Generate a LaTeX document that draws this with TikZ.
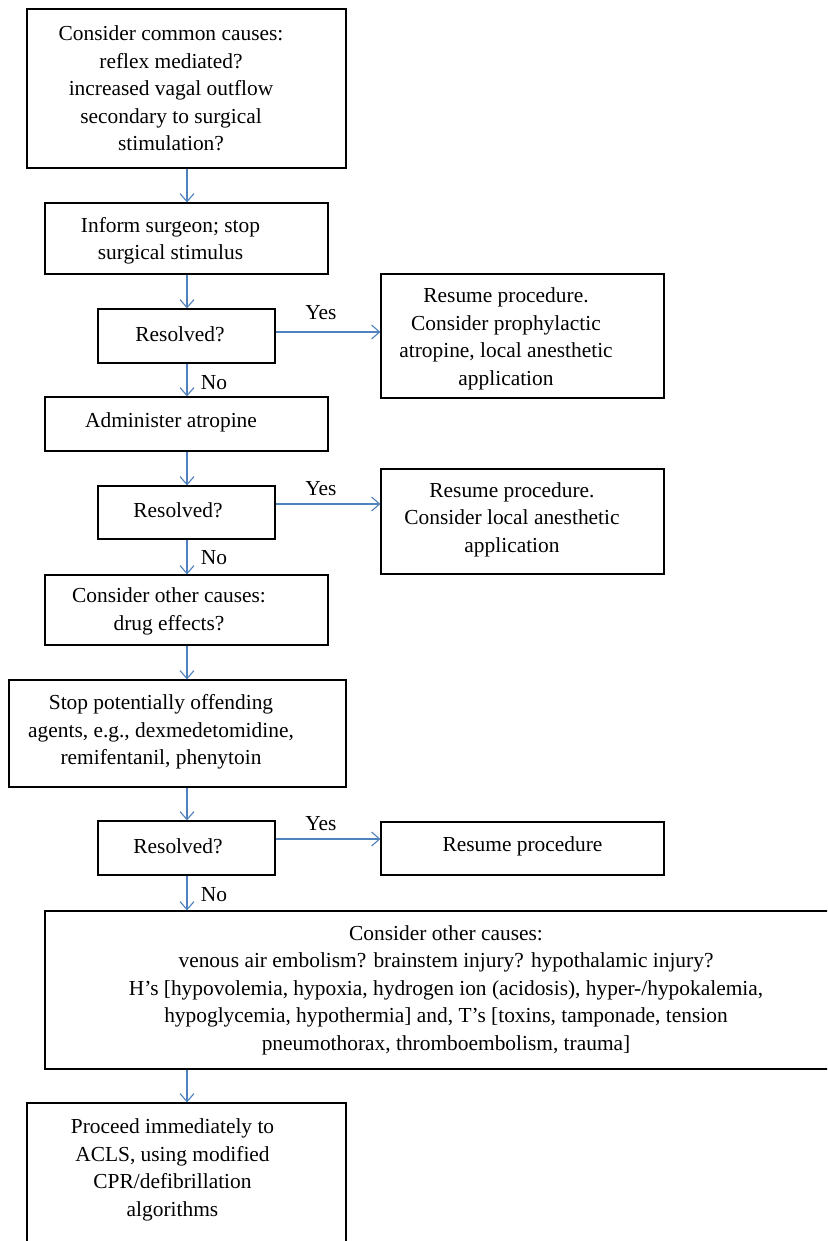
\documentclass[tikz,border=0pt]{standalone}
\usepackage{fontspec}
\setmainfont{Liberation Serif}
\usetikzlibrary{arrows.meta}
\definecolor{arrblue}{RGB}{79,129,189}
\tikzset{
  boxnode/.style={draw=black, line width=1.2pt, rectangle, inner sep=0pt, anchor=center},
  txt/.style={inner sep=0pt, align=center, font=\fontsize{21.4pt}{27.5pt}\selectfont, anchor=center},
  arr/.style={draw=arrblue, line width=1.1pt, -{Straight Barb[length=8pt,width=14pt,line width=1.1pt]}},
}
\begin{document}
\begin{tikzpicture}[x=1pt,y=-1pt]
\clip (0,0) rectangle (827,1241);
\fill[white] (0,0) rectangle (827,1241);
\coordinate (sp) at (187,0);
% boxes
\node[boxnode, minimum width=319pt, minimum height=159pt] (top) at (186.5,88.5) {};
\node[txt] (toptxt) at (171,88.5) {Consider common causes:\\reflex mediated?\\increased vagal outflow\\secondary to surgical\\stimulation?};
\node[boxnode, minimum width=283pt, minimum height=71pt] (inform) at (186.5,238.5) {};
\node[txt] (informtxt) at (170.5,241) {Inform surgeon; stop\\surgical stimulus};
\node[boxnode, minimum width=177pt, minimum height=54pt] (ra) at (186.5,336) {};
\node[txt] (ratxt) at (180,334) {Resolved?};
\node[boxnode, minimum width=283pt, minimum height=54pt] (admin) at (186.5,424) {};
\node[txt] (admintxt) at (171,422) {Administer atropine};
\node[boxnode, minimum width=177pt, minimum height=53pt] (rb) at (186.5,512.5) {};
\node[txt] (rbtxt) at (178,510) {Resolved?};
\node[boxnode, minimum width=283pt, minimum height=70pt] (other) at (186.5,610) {};
\node[txt] (othertxt) at (169,611.5) {Consider other causes:\\drug effects?};
\node[boxnode, minimum width=337pt, minimum height=107pt] (stop) at (177.5,733.5) {};
\node[txt] (stoptxt) at (161,732) {Stop potentially offending\\agents, e.g., dexmedetomidine,\\remifentanil, phenytoin};
\node[boxnode, minimum width=177pt, minimum height=54pt] (rc) at (186.5,848) {};
\node[txt] (rctxt) at (178,846) {Resolved?};
\node[boxnode, minimum width=283pt, minimum height=124pt] (sa) at (522.5,336) {};
\node[txt] (satxt) at (506,339) {Resume procedure.\\Consider prophylactic\\atropine, local anesthetic\\application};
\node[boxnode, minimum width=283pt, minimum height=105pt] (sb) at (522.5,521.5) {};
\node[txt] (sbtxt) at (512,519.5) {Resume procedure.\\Consider local anesthetic\\application};
\node[boxnode, minimum width=283pt, minimum height=53pt] (sc) at (522.5,848.5) {};
\node[txt] (sctxt) at (522.5,846) {Resume procedure};
\node[boxnode, minimum width=835pt, minimum height=158pt] (big) at (462.5,990) {};
\node[txt] (bigtxt) at (446,990) {Consider other causes:\\venous air embolism? brainstem injury? hypothalamic injury?\\H’s [hypovolemia, hypoxia, hydrogen ion (acidosis), hyper-/hypokalemia,\\hypoglycemia, hypothermia] and, T’s [toxins, tamponade, tension\\pneumothorax, thromboembolism, trauma]};
\node[boxnode, minimum width=319pt, minimum height=167pt] (proc) at (186.5,1186.5) {};
\node[txt] (proctxt) at (172.5,1170) {Proceed immediately to\\ACLS, using modified\\CPR/defibrillation\\algorithms};
% vertical connectors
\draw[arr] (top.south -| sp) -- (inform.north -| sp);
\draw[arr] (inform.south -| sp) -- (ra.north -| sp);
\draw[arr] (ra.south -| sp) -- (admin.north -| sp);
\draw[arr] (admin.south -| sp) -- (rb.north -| sp);
\draw[arr] (rb.south -| sp) -- (other.north -| sp);
\draw[arr] (other.south -| sp) -- (stop.north -| sp);
\draw[arr] (stop.south -| sp) -- (rc.north -| sp);
\draw[arr] (rc.south -| sp) -- (big.north -| sp);
\draw[arr] (big.south -| sp) -- (proc.north -| sp);
% yes connectors
\coordinate (ya) at (0,332);
\coordinate (yb) at (0,504);
\coordinate (yc) at (0,839);
\draw[arr] (ra.east |- ya) -- (sa.west |- ya);
\draw[arr] (rb.east |- yb) -- (sb.west |- yb);
\draw[arr] (rc.east |- yc) -- (sc.west |- yc);
% labels
\node[txt] (yesa) at (321,313) {Yes};
\node[txt] (yesb) at (321,489) {Yes};
\node[txt] (yesc) at (321,824) {Yes};
\node[txt] (noa) at (214,383) {No};
\node[txt] (nob) at (214,558) {No};
\node[txt] (noc) at (214,895) {No};
\end{tikzpicture}
\end{document}
